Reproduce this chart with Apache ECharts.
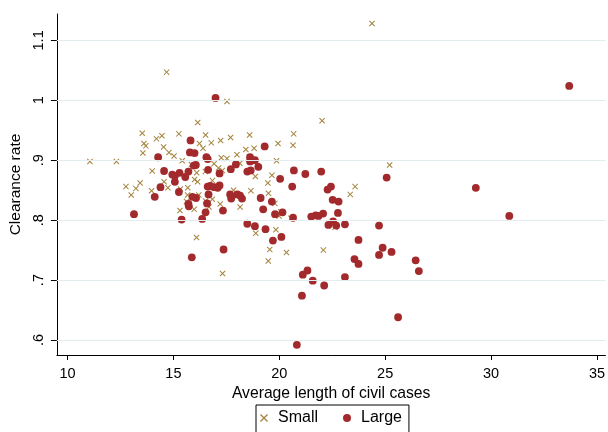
<!DOCTYPE html>
<html>
<head>
<meta charset="utf-8">
<script src="https://cdn.jsdelivr.net/npm/echarts@6/dist/echarts.min.js"></script>
<style>
  html, body { margin: 0; padding: 0; background: #fff; }
  #chart { width: 608px; height: 432px; }
</style>
</head>
<body>
<div id="chart"></div>
<script>
// tick values and labels
var xTicks = [10, 15, 20, 25, 30, 35];
var yTicks = [0.6, 0.7, 0.8, 0.9, 1, 1.1];
var yTickLabels = ['.6', '.7', '.8', '.9', '1', '1.1'];

// Small courts: [average length, clearance rate]
var smallData = [
  [14.68, 1.047], [17.53, 0.998], [16.15, 0.963], [24.38, 1.128], [13.53, 0.945],
  [14.46, 0.941], [14.20, 0.936], [15.26, 0.944], [13.61, 0.928], [13.70, 0.924],
  [14.54, 0.922], [16.23, 0.928], [13.56, 0.912], [14.79, 0.913], [15.03, 0.907],
  [11.06, 0.898], [12.31, 0.898], [15.42, 0.899], [14.00, 0.882], [16.10, 0.879],
  [14.56, 0.864], [13.43, 0.862], [12.76, 0.856], [13.23, 0.853], [14.74, 0.854],
  [15.33, 0.852], [13.01, 0.842], [13.97, 0.849], [15.68, 0.854], [16.00, 0.868],
  [16.14, 0.864], [15.67, 0.842], [16.20, 0.842], [15.62, 0.831], [15.98, 0.818],
  [15.31, 0.816], [16.09, 0.771], [15.85, 0.893], [22.02, 0.966], [16.52, 0.942],
  [17.70, 0.938], [18.60, 0.942], [20.68, 0.944], [16.79, 0.929], [17.23, 0.933],
  [19.94, 0.928], [20.65, 0.925], [16.40, 0.920], [18.42, 0.918], [18.81, 0.920],
  [18.00, 0.909], [17.26, 0.904], [17.53, 0.903], [19.87, 0.899], [18.14, 0.895],
  [18.59, 0.906], [16.92, 0.894], [16.51, 0.881], [17.13, 0.887], [17.31, 0.883],
  [25.21, 0.892], [16.84, 0.866], [19.65, 0.875], [18.87, 0.873], [19.46, 0.862],
  [17.84, 0.850], [18.66, 0.849], [19.49, 0.845], [23.58, 0.856], [23.35, 0.843],
  [16.52, 0.832], [16.84, 0.835], [16.68, 0.822], [17.21, 0.827], [18.15, 0.822],
  [19.79, 0.828], [20.07, 0.814], [19.99, 0.807], [20.55, 0.803], [22.63, 0.788],
  [18.89, 0.778], [19.84, 0.784], [19.55, 0.751], [20.34, 0.746], [22.08, 0.750],
  [19.48, 0.732], [17.32, 0.711]
];

// Large courts: [average length, clearance rate]
var largeData = [
  [16.99, 1.004], [15.81, 0.933], [15.78, 0.913], [16.00, 0.912], [14.28, 0.905],
  [14.56, 0.882], [14.95, 0.876], [15.07, 0.874], [15.29, 0.879], [15.71, 0.881],
  [15.56, 0.872], [16.06, 0.892], [15.96, 0.891], [15.07, 0.864], [14.39, 0.855],
  [15.26, 0.847], [14.12, 0.839], [15.90, 0.839], [16.07, 0.837], [15.71, 0.827],
  [15.73, 0.823], [13.14, 0.810], [15.39, 0.801], [15.87, 0.738], [19.31, 0.923],
  [16.56, 0.905], [16.62, 0.902], [18.62, 0.905], [18.85, 0.900], [18.62, 0.898],
  [17.95, 0.893], [17.71, 0.885], [19.01, 0.889], [16.64, 0.884], [18.49, 0.881],
  [18.65, 0.883], [17.18, 0.878], [20.69, 0.883], [21.23, 0.877], [21.98, 0.881],
  [25.07, 0.871], [20.04, 0.869], [16.62, 0.856], [16.74, 0.857], [16.93, 0.855],
  [17.09, 0.854], [17.18, 0.858], [16.66, 0.843], [20.61, 0.856], [22.28, 0.851],
  [22.44, 0.856], [18.02, 0.843], [18.15, 0.841], [18.24, 0.836], [17.68, 0.843],
  [17.73, 0.836], [19.12, 0.837], [22.52, 0.834], [22.80, 0.831], [19.65, 0.831],
  [16.59, 0.828], [19.24, 0.818], [17.34, 0.816], [16.52, 0.813], [19.80, 0.810],
  [20.15, 0.813], [20.65, 0.804], [21.51, 0.806], [21.72, 0.808], [21.85, 0.807],
  [22.07, 0.811], [22.77, 0.812], [16.36, 0.802], [18.49, 0.794], [18.85, 0.790],
  [19.35, 0.785], [22.32, 0.792], [22.54, 0.798], [22.69, 0.791], [23.10, 0.793],
  [24.71, 0.791], [19.70, 0.766], [20.10, 0.772], [23.74, 0.767], [17.37, 0.751],
  [24.88, 0.754], [25.30, 0.747], [24.71, 0.742], [23.55, 0.735], [23.74, 0.727],
  [21.11, 0.709], [21.33, 0.716], [23.10, 0.705], [21.58, 0.699], [22.12, 0.691],
  [21.07, 0.674], [20.83, 0.592], [25.61, 0.638], [33.69, 1.024], [29.28, 0.854],
  [30.86, 0.807], [26.44, 0.733], [26.59, 0.715]
];

var smallColor = '#a5843f';
var largeColor = '#a32a2c';
var gridColor = '#e3edef';
var xMark = 'path://M0,1.2L1.2,0L5,3.8L8.8,0L10,1.2L6.2,5L10,8.8L8.8,10L5,6.2L1.2,10L0,8.8L3.8,5Z';

var chart = echarts.init(document.getElementById('chart'), null, { renderer: 'canvas' });

var option = {
  animation: false,
  backgroundColor: '#fff',
  textStyle: { fontFamily: 'Liberation Sans, Arial, sans-serif', color: '#000' },
  grid: {
    left: 55,
    right: 0,
    top: 14,
    bottom: 77
  },
  legend: {
    data: ['Small', 'Large'],
    left: 256,
    top: 405,
    padding: [5, 7, 10, 4],
    itemWidth: 18,
    itemHeight: 8,
    itemGap: 25,
    borderColor: '#000',
    borderWidth: 1,
    borderRadius: 0,
    textStyle: { fontSize: 16, color: '#000' }
  },
  xAxis: {
    type: 'value',
    min: 9.5,
    max: 35.4,
    name: 'Average length of civil cases',
    nameLocation: 'middle',
    nameGap: 22,
    nameTextStyle: { fontSize: 15.7, color: '#000' },
    axisLine: { show: true, onZero: false, lineStyle: { color: '#000', width: 1 } },
    axisTick: { show: true, length: 5, customValues: xTicks, lineStyle: { color: '#000' } },
    axisLabel: { customValues: xTicks, margin: 11, fontSize: 14.5, color: '#000' },
    splitLine: { show: false }
  },
  yAxis: {
    type: 'value',
    min: 0.575,
    max: 1.144,
    name: 'Clearance rate',
    nameLocation: 'middle',
    nameGap: 28,
    nameTextStyle: { fontSize: 15.5, color: '#000' },
    axisLine: { show: true, onZero: false, lineStyle: { color: '#000', width: 1 } },
    axisTick: { show: true, length: 6, customValues: yTicks, lineStyle: { color: '#000' } },
    axisLabel: {
      customValues: yTicks,
      rotate: 90,
      margin: 10,
      fontSize: 14.5,
      color: '#000',
      formatter: function (v) {
        var i = yTicks.findIndex(function (t) { return Math.abs(t - v) < 1e-6; });
        return i >= 0 ? yTickLabels[i] : '';
      }
    },
    splitLine: { show: false }
  },
  series: [
    {
      // horizontal grid lines at the y ticks
      name: 'grid',
      type: 'scatter',
      data: [],
      z: 1,
      markLine: {
        silent: true,
        symbol: 'none',
        label: { show: false },
        lineStyle: { color: gridColor, width: 1.2, type: 'solid' },
        data: yTicks.map(function (t) { return { yAxis: t }; })
      }
    },
    {
      name: 'Small',
      type: 'scatter',
      data: smallData,
      symbol: xMark,
      symbolSize: 6,
      z: 3,
      itemStyle: { color: smallColor, opacity: 1 }
    },
    {
      name: 'Large',
      type: 'scatter',
      data: largeData,
      symbol: 'circle',
      symbolSize: 7.8,
      z: 4,
      itemStyle: { color: largeColor, opacity: 1 }
    }
  ]
};

chart.setOption(option);
</script>
</body>
</html>
